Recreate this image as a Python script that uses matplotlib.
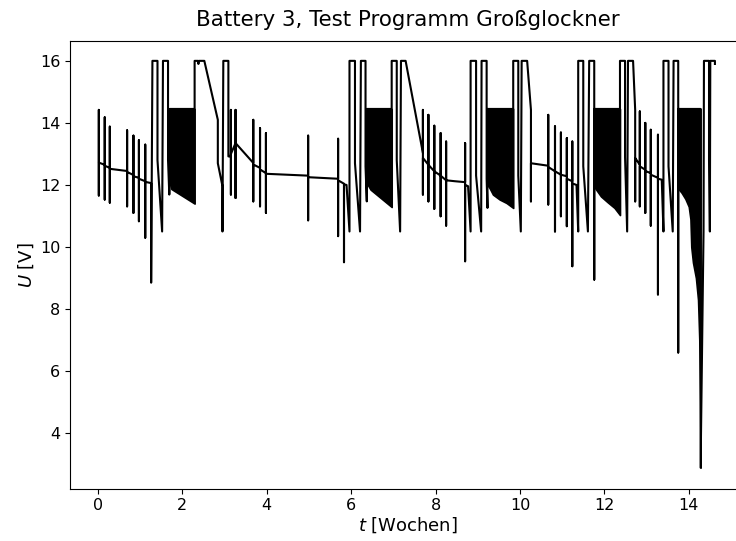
import matplotlib
matplotlib.use("Agg")
import matplotlib.pyplot as plt

# ---- main voltage trace (t in weeks, U in volts) ----
t_trace = [
    0.02, 0.02, 0.02, 0.02,
    0.16, 0.16, 0.16, 0.16,
    0.28, 0.28, 0.28, 0.28,
    0.69, 0.69, 0.69, 0.69,
    0.84, 0.84, 0.84, 0.84,
    0.97, 0.97, 0.97, 0.97,
    1.12, 1.12, 1.12, 1.12,
    1.26, 1.26,
    1.29, 1.41, 1.41, 1.52, 1.54, 1.66, 1.66, 1.69, 1.70, 1.70,
    2.29, 2.29, 2.37, 2.38, 2.39, 2.52, 2.84, 2.84, 2.95, 2.95, 2.97, 3.09, 3.09,
    3.15, 3.15, 3.15, 3.15,
    3.26, 3.26, 3.26, 3.26,
    3.68, 3.68, 3.68, 3.68,
    3.84, 3.84, 3.84, 3.84,
    3.98, 3.98, 3.98, 3.98,
    4.98, 4.98, 4.98, 4.98,
    5.69, 5.69, 5.69, 5.69,
    5.83, 5.83, 5.83,
    5.89, 5.96, 5.96, 6.09, 6.09, 6.21, 6.23, 6.34, 6.34, 6.37, 6.37,
    6.96, 6.96, 7.08, 7.08, 7.16, 7.18, 7.29,
    7.70, 7.70, 7.70, 7.70,
    7.83, 7.83, 7.83, 7.83,
    7.97, 7.97, 7.97, 7.97,
    8.12, 8.12, 8.12, 8.12,
    8.25, 8.25, 8.25, 8.25,
    8.46,
    8.70, 8.70, 8.70, 8.70,
    8.77, 8.83, 8.83, 8.96, 8.96, 9.08, 9.09, 9.21, 9.21, 9.23, 9.23,
    9.84, 9.84, 9.96, 9.96, 10.02, 10.04, 10.17,
    10.26, 10.26, 10.26,
    10.67, 10.67, 10.67, 10.67,
    10.83, 10.83, 10.83, 10.83,
    10.97, 10.97, 10.97, 10.97,
    11.11, 11.11, 11.11, 11.11,
    11.24, 11.24, 11.24, 11.24,
    11.34, 11.38, 11.38, 11.50, 11.50, 11.61, 11.64, 11.76, 11.76, 11.76,
    12.37, 12.37, 12.49, 12.49, 12.54, 12.56, 12.68,
    12.73, 12.73, 12.73,
    12.84, 12.84, 12.84, 12.84,
    12.97, 12.97, 12.97, 12.97,
    13.10, 13.10, 13.10, 13.10,
    13.27, 13.27, 13.27, 13.27,
    13.36, 13.40, 13.40, 13.52, 13.52, 13.62, 13.64, 13.75, 13.75, 13.75,
    14.28, 14.28, 14.35, 14.36, 14.48, 14.48, 14.50, 14.51, 14.62, 14.62,
]
u_trace = [
    12.76, 14.42, 11.66, 12.72,
    12.65, 14.18, 11.53, 12.62,
    12.55, 13.88, 11.43, 12.52,
    12.45, 13.76, 11.31, 12.42,
    12.32, 13.59, 11.10, 12.28,
    12.23, 13.44, 10.83, 12.20,
    12.12, 13.30, 10.30, 12.10,
    12.06, 8.85,
    16.0, 16.0, 12.8, 10.5, 16.0, 16.0, 12.8, 11.69, 12.06, 14.45,
    14.45, 16.0, 16.0, 15.9, 16.0, 16.0, 14.1, 12.7, 11.96, 10.5, 16.0, 16.0, 12.92,
    12.92, 14.42, 11.69, 13.0,
    13.35, 14.42, 11.58, 13.35,
    12.71, 14.10, 11.47, 12.66,
    12.55, 13.83, 11.31, 12.50,
    12.38, 13.67, 11.10, 12.36,
    12.30, 13.59, 10.86, 12.25,
    12.20, 13.49, 10.35, 12.15,
    12.04, 9.51, 12.02,
    12.0, 10.5, 16.0, 16.0, 12.7, 10.5, 16.0, 16.0, 12.6, 11.47, 14.45,
    14.45, 16.0, 16.0, 12.8, 10.5, 16.0, 16.0,
    13.03, 14.42, 11.69, 12.87,
    12.65, 14.26, 11.47, 12.65,
    12.44, 13.91, 11.23, 12.44,
    12.30, 13.67, 10.99, 12.30,
    12.15, 13.40, 10.69, 12.15,
    12.12,
    12.09, 13.35, 9.54, 12.0,
    11.96, 10.5, 16.0, 16.0, 12.3, 10.5, 16.0, 16.0, 12.2, 11.26, 14.45,
    14.45, 16.0, 16.0, 12.3, 10.5, 16.0, 16.0,
    14.42, 11.47, 12.70,
    12.62, 14.26, 11.37, 12.58,
    12.44, 13.89, 10.50, 12.44,
    12.33, 13.69, 10.99, 12.33,
    12.28, 13.51, 10.67, 12.20,
    12.12, 13.40, 9.38, 12.05,
    12.0, 10.5, 16.0, 16.0, 12.6, 10.5, 16.0, 16.0, 8.95, 14.45,
    14.45, 16.0, 16.0, 12.9, 10.5, 16.0, 16.0,
    14.42, 11.47, 12.87,
    12.65, 14.37, 11.31, 12.60,
    12.49, 14.00, 11.10, 12.45,
    12.38, 13.78, 10.69, 12.33,
    12.23, 13.62, 8.47, 12.20,
    12.17, 10.5, 16.0, 16.0, 12.6, 10.5, 16.0, 16.0, 6.6, 14.45,
    14.45, 2.89, 10.5, 16.0, 16.0, 12.8, 10.5, 16.0, 16.0, 15.9,
]

# ---- dense charge-pulse blocks: envelopes ----
fill1_t = [1.70, 1.74, 2.29]
fill1_low = [12.06, 11.87, 11.40]
fill1_high = [14.45, 14.45, 14.45]

fill2_t = [6.37, 6.46, 6.96]
fill2_low = [12.06, 11.85, 11.29]
fill2_high = [14.45, 14.45, 14.45]

fill3_t = [9.23, 9.28, 9.36, 9.52, 9.68, 9.84]
fill3_low = [12.0, 11.9, 11.69, 11.53, 11.42, 11.26]
fill3_high = [14.45, 14.45, 14.45, 14.45, 14.45, 14.45]

fill4_t = [11.76, 11.78, 11.92, 12.08, 12.24, 12.37]
fill4_low = [11.95, 11.9, 11.63, 11.44, 11.26, 11.03]
fill4_high = [14.45, 14.45, 14.45, 14.45, 14.45, 14.45]

fill5_t = [13.75, 13.77, 13.83, 13.92, 14.00, 14.04, 14.06, 14.10, 14.17, 14.22, 14.25, 14.27, 14.28]
fill5_low = [11.95, 11.85, 11.75, 11.55, 11.3, 10.9, 10.0, 9.5, 9.0, 8.3, 7.0, 5.0, 2.89]
fill5_high = [14.45, 14.45, 14.45, 14.45, 14.45, 14.45, 14.45, 14.45, 14.45, 14.45, 14.45, 14.45, 14.45]

x_ticks = [0, 2, 4, 6, 8, 10, 12, 14]
y_ticks = [4, 6, 8, 10, 12, 14, 16]

fig = plt.figure(figsize=(7.36, 5.41), dpi=100)
ax = fig.add_axes([69.5 / 736, 52 / 541, (747 - 69.5) / 736, (489 - 41) / 541])

for ft, fl, fh in [(fill1_t, fill1_low, fill1_high), (fill2_t, fill2_low, fill2_high),
                   (fill3_t, fill3_low, fill3_high), (fill4_t, fill4_low, fill4_high),
                   (fill5_t, fill5_low, fill5_high)]:
    ax.fill_between(ft, fl, fh, color="black", linewidth=1.2, edgecolor="black")

ax.plot(t_trace, u_trace, color="black", linewidth=1.5)

ax.set_xlim(-0.675, 15.38)
ax.set_ylim(2.2, 16.64)
ax.set_xticks(x_ticks)
ax.set_yticks(y_ticks)
ax.tick_params(labelsize=11.5, pad=3)
ax.set_xlabel("$t$ [Wochen]", fontsize=13, labelpad=2)
ax.set_ylabel("$U$ [V]", fontsize=13, labelpad=3)
ax.set_title("Battery 3, Test Programm Großglockner", fontsize=15.4, pad=11)

fig.savefig("out.png", dpi=100)
